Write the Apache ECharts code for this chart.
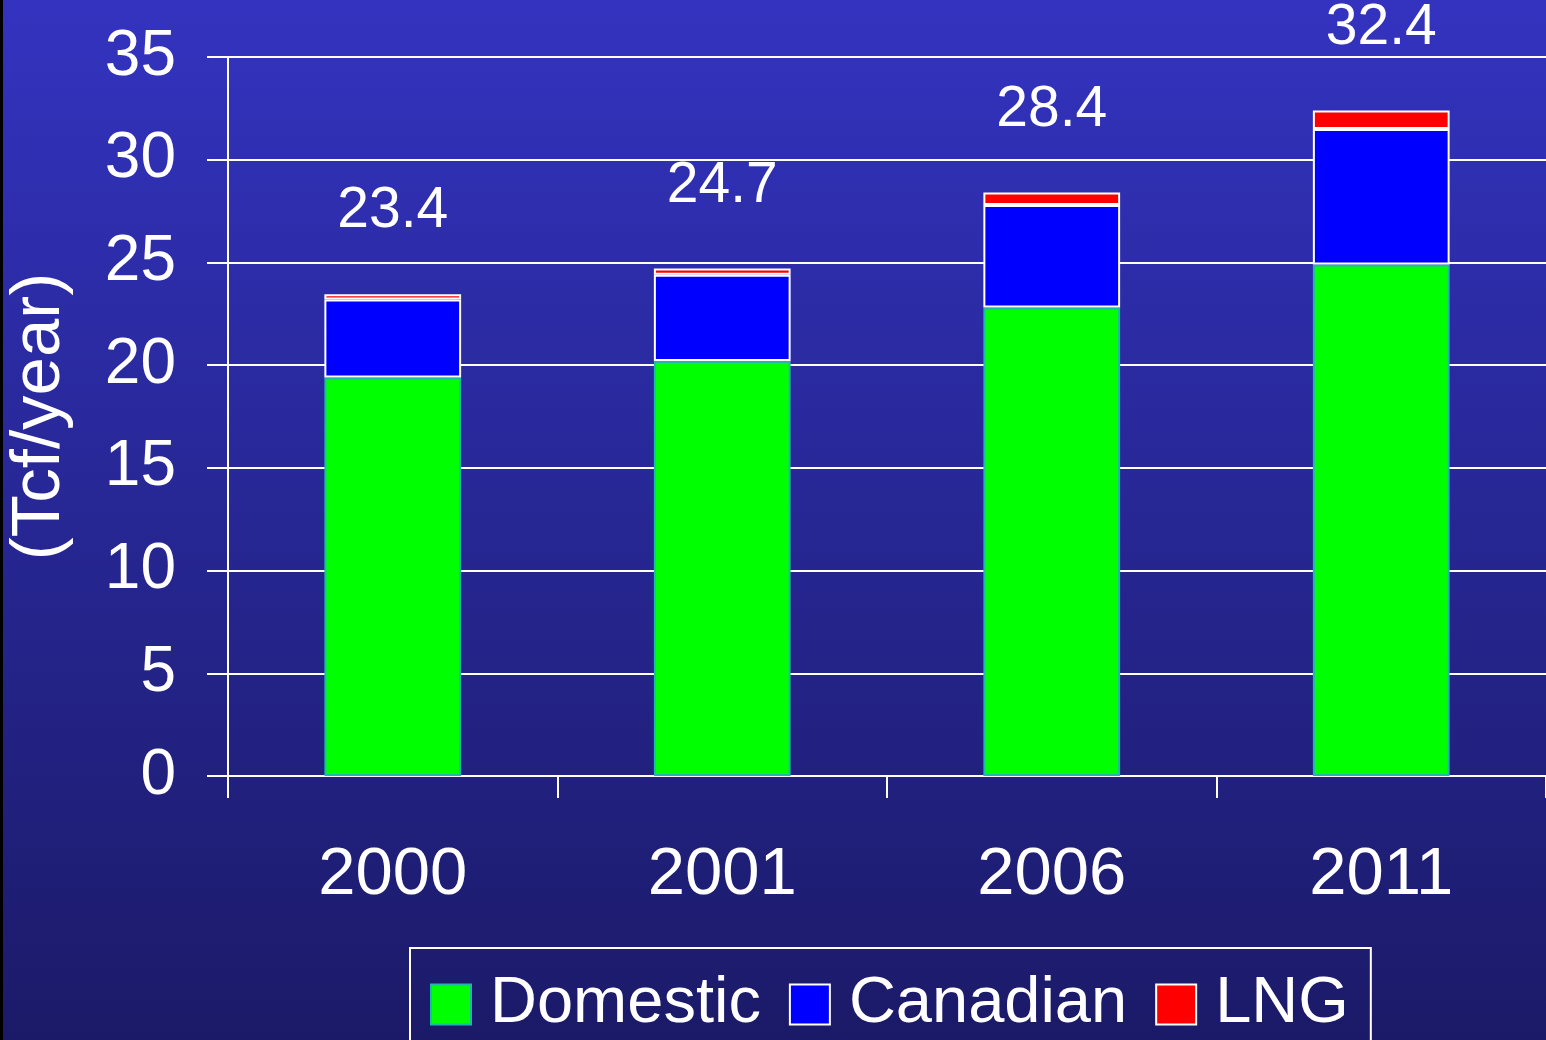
<!DOCTYPE html>
<html>
<head>
<meta charset="utf-8">
<script src="https://cdn.jsdelivr.net/npm/echarts@6/dist/echarts.min.js"></script>
<style>
  html, body { margin: 0; padding: 0; background: #1c1c6a; }
  #chart { width: 1546px; height: 1040px; }
</style>
</head>
<body>
<div id="chart"></div>
<script>
  // gas supply, Tcf per year
  var years = ['2000', '2001', '2006', '2011'];
  var domestic = [19.4, 20.2, 22.8, 24.9];
  var canadian = [3.8, 4.2, 5.0, 6.6];
  var lng = [0.25, 0.3, 0.6, 0.9];
  var totals = ['23.4', '24.7', '28.4', '32.4'];

  var font = 'Liberation Sans, Arial, sans-serif';

  var chart = echarts.init(document.getElementById('chart'));
  var option = {
    backgroundColor: new echarts.graphic.LinearGradient(0, 0, 0, 1, [
      {offset: 0, color: '#3333c0'},
      {offset: 1, color: '#1b1a68'}
    ]),
    animation: false,
    textStyle: {fontFamily: font},
    graphic: [
      {type: 'rect', left: 0, top: 0, shape: {width: 3, height: 1040}, style: {fill: '#000'}}
    ],
    grid: {
      left: 228,
      right: 0,
      top: 57,
      bottom: 264,
      outerBoundsMode: 'none'
    },
    legend: {
      left: 410,
      top: 948,
      padding: [24, 22, 40, 20],
      borderColor: '#ffffff',
      borderWidth: 2,
      icon: 'rect',
      itemWidth: 40,
      itemHeight: 40,
      itemGap: 28,
      textStyle: {color: '#fff', fontSize: 65, fontFamily: font, padding: [0, 0, 0, 14]},
      data: ['Domestic', 'Canadian', 'LNG']
    },
    xAxis: {
      type: 'category',
      data: years,
      axisLine: {lineStyle: {color: '#fff', width: 2}},
      axisTick: {show: true, length: 22, lineStyle: {color: '#fff', width: 2}},
      axisLabel: {color: '#fff', fontSize: 67, margin: 66, fontFamily: font}
    },
    yAxis: {
      type: 'value',
      min: 0,
      max: 35,
      interval: 5,
      name: '(Tcf/year)',
      nameLocation: 'middle',
      nameRotate: 90,
      nameGap: 154,
      nameTextStyle: {color: '#fff', fontSize: 69, fontFamily: font},
      axisLine: {show: true, lineStyle: {color: '#fff', width: 2}},
      axisTick: {show: true, length: 21, lineStyle: {color: '#fff', width: 2}},
      axisLabel: {color: '#fff', fontSize: 64, margin: 52, fontFamily: font},
      splitLine: {lineStyle: {color: '#fff', width: 2}}
    },
    series: [
      {
        name: 'Domestic',
        type: 'bar',
        stack: 'supply',
        barWidth: '41.5%',
        itemStyle: {color: '#00ff00', borderColor: '#20b8a8', borderWidth: 2},
        data: domestic
      },
      {
        name: 'Canadian',
        type: 'bar',
        stack: 'supply',
        itemStyle: {color: '#0000ff', borderColor: '#ffffff', borderWidth: 2},
        data: canadian
      },
      {
        name: 'LNG',
        type: 'bar',
        stack: 'supply',
        itemStyle: {color: '#ff0000', borderColor: '#ffffff', borderWidth: 2},
        label: {
          show: true,
          position: 'top',
          distance: 54,
          color: '#fff',
          fontSize: 57,
          fontFamily: font,
          formatter: function (p) { return totals[p.dataIndex]; }
        },
        data: lng
      }
    ]
  };
  chart.setOption(option);
</script>
</body>
</html>
